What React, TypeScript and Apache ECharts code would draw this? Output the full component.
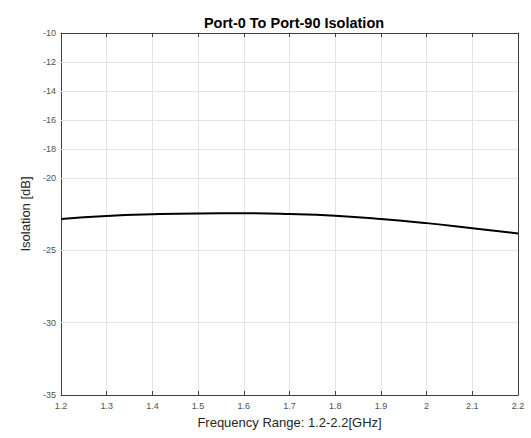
import React, { useEffect, useRef } from "react";
import * as echarts from "echarts";

const freq = [1.2, 1.3, 1.4, 1.5, 1.6, 1.7, 1.8, 1.9, 2.0, 2.1, 2.2];
const isolation = [-22.85, -22.64, -22.52, -22.46, -22.45, -22.5, -22.62, -22.84, -23.13, -23.48, -23.84];
const yTicks = [-35, -30, -25, -20, -18, -16, -14, -12, -10];

export default function App() {
  const ref = useRef<HTMLDivElement>(null);
  useEffect(() => {
    const chart = echarts.init(ref.current!, null, { renderer: "svg" });
    const axisColor = "#404040";
    const labelColor = "#505050";
    const gridColor = "#e3e3e3";
    const font = "Liberation Sans, Arial, sans-serif";
    chart.setOption({
      animation: false,
      backgroundColor: "#ffffff",
      title: {
        text: "Port-0 To Port-90 Isolation",
        left: 289,
        top: 10,
        textAlign: "center",
        textStyle: { fontFamily: font, fontSize: 14.5, fontWeight: "bold", color: "#000" },
      },
      grid: { left: 61, top: 33, right: 13, bottom: 43, containLabel: false },
      xAxis: [
        {
          type: "value",
          min: 1.2,
          max: 2.2,
          interval: 0.1,
          name: "Frequency Range: 1.2-2.2[GHz]",
          nameLocation: "middle",
          nameGap: 21,
          nameTextStyle: { fontFamily: font, fontSize: 13, color: "#262626" },
          axisLine: { show: true, lineStyle: { color: axisColor, width: 1 } },
          axisTick: { show: true, inside: true, length: 4, lineStyle: { color: axisColor } },
          axisLabel: {
            fontFamily: font,
            fontSize: 9,
            color: labelColor,
            margin: 6,
            formatter: (v: number) => String(Math.round(v * 10) / 10),
          },
          splitLine: { show: true, lineStyle: { color: gridColor, width: 1 } },
        },
        {
          type: "value",
          position: "top",
          min: 1.2,
          max: 2.2,
          interval: 0.1,
          axisLine: { show: true, lineStyle: { color: axisColor, width: 1 } },
          axisTick: { show: true, inside: true, length: 4, lineStyle: { color: axisColor } },
          axisLabel: { show: false },
          splitLine: { show: false },
        },
      ],
      yAxis: [
        {
          type: "value",
          min: -35,
          max: -10,
          name: "Isolation [dB]",
          nameLocation: "middle",
          nameGap: 28,
          nameTextStyle: { fontFamily: font, fontSize: 13, color: "#262626" },
          axisLine: { show: true, lineStyle: { color: axisColor, width: 1 } },
          axisTick: { show: true, inside: true, length: 4, customValues: yTicks, lineStyle: { color: axisColor } },
          axisLabel: { fontFamily: font, fontSize: 9, color: labelColor, margin: 5, customValues: yTicks },
          splitLine: { show: false },
        },
        {
          type: "value",
          position: "right",
          min: -35,
          max: -10,
          axisLine: { show: true, lineStyle: { color: axisColor, width: 1 } },
          axisTick: { show: true, inside: true, length: 4, customValues: yTicks, lineStyle: { color: axisColor } },
          axisLabel: { show: false, customValues: yTicks },
          splitLine: { show: false },
        },
      ],
      series: [
        {
          type: "line",
          silent: true,
          data: [],
          z: 1,
          markLine: {
            silent: true,
            symbol: "none",
            label: { show: false },
            lineStyle: { color: gridColor, width: 1, type: "solid" },
            data: yTicks.filter((v) => v !== -35 && v !== -10).map((v) => ({ yAxis: v })),
          },
        },
        {
          type: "line",
          data: freq.map((f, i) => [f, isolation[i]]),
          smooth: 0.5,
          showSymbol: false,
          z: 3,
          lineStyle: { color: "#000000", width: 2 },
        },
      ],
    });
    return () => chart.dispose();
  }, []);
  return (
    <div
      ref={ref}
      style={{ position: "absolute", left: 0, top: 0, width: 531, height: 438 }}
    />
  );
}
